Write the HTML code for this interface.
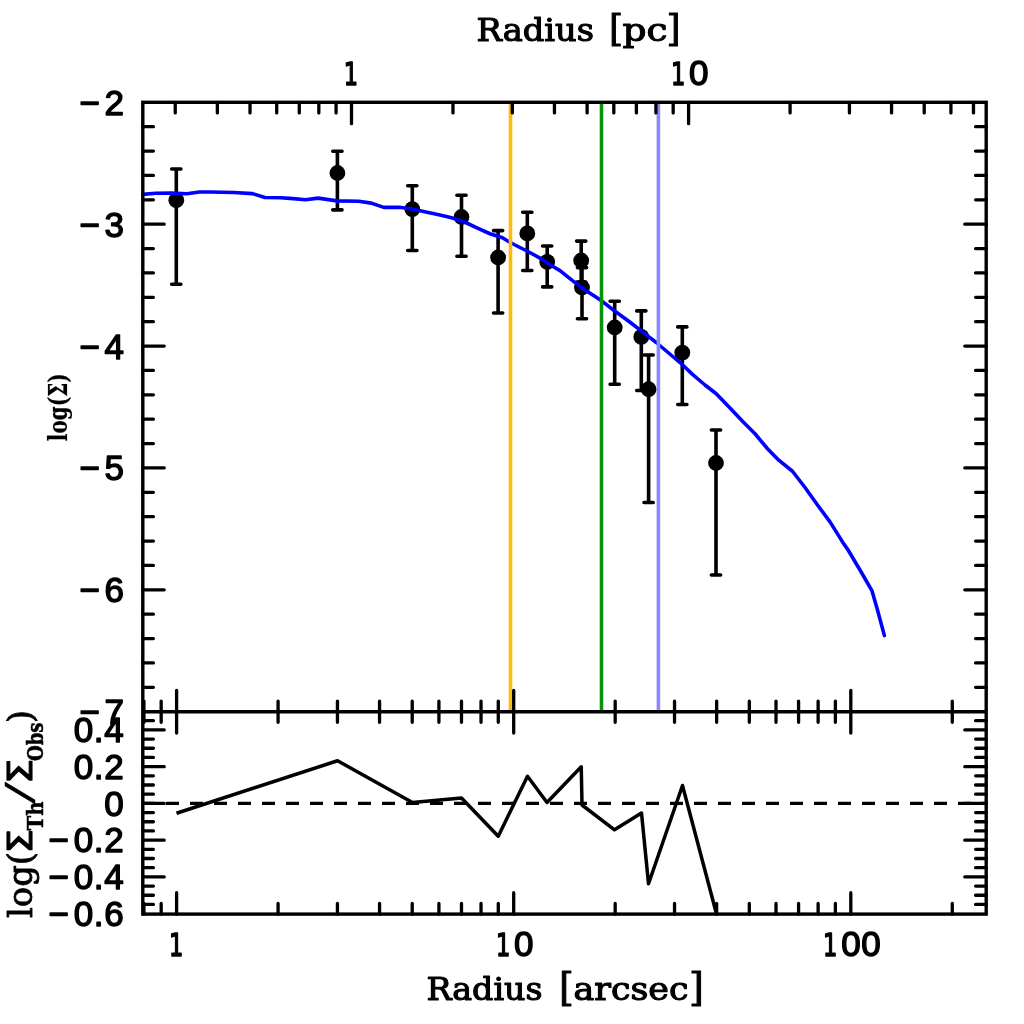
<!DOCTYPE html>
<html><head><meta charset="utf-8"><title>Radius profile</title>
<style>html,body{margin:0;padding:0;background:#fff}svg{display:block;filter:blur(0.45px)}
.n{font-family:"Liberation Sans",sans-serif;font-size:35px;fill:#000;stroke:#000;stroke-width:0.9px;stroke-linejoin:round}
.s{font-family:"DejaVu Serif",serif;fill:#000;stroke:#000;stroke-linejoin:round}
.d{fill:#000;stroke:#000;stroke-linejoin:round}
</style></head><body>
<svg width="1024" height="1024" viewBox="0 0 1024 1024">
<rect width="1024" height="1024" fill="#fff"/>
<path d="M176.3 169L176.3 284.25M171.70000000000002 169L180.9 169M171.70000000000002 284.25L180.9 284.25M337.4 151.25L337.4 209.9M332.79999999999995 151.25L342.0 151.25M332.79999999999995 209.9L342.0 209.9M412.3 185.7L412.3 250.5M407.7 185.7L416.90000000000003 185.7M407.7 250.5L416.90000000000003 250.5M461.5 195.2L461.5 256.25M456.9 195.2L466.1 195.2M456.9 256.25L466.1 256.25M498.1 230.6L498.1 313M493.5 230.6L502.70000000000005 230.6M493.5 313L502.70000000000005 313M527.3 212.3L527.3 270.5M522.6999999999999 212.3L531.9 212.3M522.6999999999999 270.5L531.9 270.5M547.2 246L547.2 286.9M542.6 246L551.8000000000001 246M542.6 286.9L551.8000000000001 286.9M581.2 241.1L581.2 282M576.6 241.1L585.8000000000001 241.1M576.6 282L585.8000000000001 282M582 267.6L582 318.75M577.4 267.6L586.6 267.6M577.4 318.75L586.6 318.75M614.7 301.2L614.7 384.2M610.1 301.2L619.3000000000001 301.2M610.1 384.2L619.3000000000001 384.2M641.3 310.9L641.3 390.5M636.6999999999999 310.9L645.9 310.9M636.6999999999999 390.5L645.9 390.5M648.6 355L648.6 502.5M644.0 355L653.2 355M644.0 502.5L653.2 502.5M682.3 326.9L682.3 404.5M677.6999999999999 326.9L686.9 326.9M677.6999999999999 404.5L686.9 404.5M716 430L716 575M711.4 430L720.6 430M711.4 575L720.6 575" stroke="#000" stroke-width="3.6" stroke-linecap="round" fill="none"/>
<circle cx="176.3" cy="200.2" r="7.9" fill="#000"/>
<circle cx="337.4" cy="173" r="7.9" fill="#000"/>
<circle cx="412.3" cy="209.1" r="7.9" fill="#000"/>
<circle cx="461.5" cy="217" r="7.9" fill="#000"/>
<circle cx="498.1" cy="257.5" r="7.9" fill="#000"/>
<circle cx="527.3" cy="233.4" r="7.9" fill="#000"/>
<circle cx="547.2" cy="261.9" r="7.9" fill="#000"/>
<circle cx="581.2" cy="260.5" r="7.9" fill="#000"/>
<circle cx="582" cy="287.5" r="7.9" fill="#000"/>
<circle cx="614.7" cy="327.5" r="7.9" fill="#000"/>
<circle cx="641.3" cy="336.9" r="7.9" fill="#000"/>
<circle cx="648.6" cy="389.25" r="7.9" fill="#000"/>
<circle cx="682.3" cy="352.7" r="7.9" fill="#000"/>
<circle cx="716" cy="463" r="7.9" fill="#000"/>
<polyline points="142.8,194.4 155.6,193.3 171.25,193.1 186.9,193.75 199.4,192 210.3,192 233.75,192.5 252.5,193.6 265,197.5 280.6,197.8 290,198.4 305.6,199.7 318.1,198.1 336.9,200.9 358.75,201.25 371.25,203.1 383.75,207.4 399.4,207.2 411.9,209 430.6,213 440,215 452.5,218.1 465,222.25 477.5,228.1 490,233.75 502.5,237.75 508.1,241.25 515,245 527.5,251.25 540,258.1 552.5,266.25 560,270.6 572.5,280.6 585,290 601.25,300.6 615,311.25 628.75,321.25 642.5,331.9 656.25,342.5 672.5,356.25 680,362.5 692.5,374.4 705,385 716.25,393.75 730,408.1 742.5,421.25 755,433.75 767.5,448.75 778.75,460.2 792.5,471.25 805,487.5 817.5,505 830,521.9 842.5,541.9 848.1,550 860,570 871.9,590.6 877.5,610 884.4,635.6" fill="none" stroke="#0000ff" stroke-width="3.6" stroke-linejoin="round" stroke-linecap="round"/>
<line x1="510.5" y1="102.3" x2="510.5" y2="711.7" stroke="#ffbb0a" stroke-width="3.6"/>
<line x1="601.5" y1="102.3" x2="601.5" y2="711.7" stroke="#089408" stroke-width="3.6"/>
<line x1="658.4" y1="102.3" x2="658.4" y2="711.7" stroke="#8a8aff" stroke-width="3.6"/>
<polyline points="176.5,813.25 337.5,760.75 412.5,802.5 461.5,798 498.25,836.25 527.5,776.25 547,802.5 581.25,766.75 582,805 614.5,829.8 641.5,813 648.5,883.75 682.5,785.5 716.5,914" fill="none" stroke="#000" stroke-width="3.5" stroke-linejoin="round"/>
<line x1="142" y1="803.4" x2="986.2" y2="803.4" stroke="#000" stroke-width="3.3" stroke-dasharray="13 11"/>
<path d="M175.24 102.30L175.24 112.90M217.35 102.30L217.35 112.90M250.02 102.30L250.02 112.90M276.71 102.30L276.71 112.90M299.28 102.30L299.28 112.90M318.83 102.30L318.83 112.90M336.08 102.30L336.08 112.90M351.50 102.30L351.50 123.70M452.98 102.30L452.98 112.90M512.34 102.30L512.34 112.90M554.45 102.30L554.45 112.90M587.12 102.30L587.12 112.90M613.81 102.30L613.81 112.90M636.38 102.30L636.38 112.90M655.93 102.30L655.93 112.90M673.18 102.30L673.18 112.90M688.60 102.30L688.60 123.70M790.08 102.30L790.08 112.90M849.44 102.30L849.44 112.90M891.55 102.30L891.55 112.90M924.22 102.30L924.22 112.90M950.91 102.30L950.91 112.90M973.48 102.30L973.48 112.90M143.93 701.10L143.93 722.30M143.93 914.10L143.93 903.50M161.18 701.10L161.18 722.30M161.18 914.10L161.18 903.50M176.60 690.30L176.60 733.10M176.60 914.10L176.60 892.70M278.08 701.10L278.08 722.30M278.08 914.10L278.08 903.50M337.44 701.10L337.44 722.30M337.44 914.10L337.44 903.50M379.55 701.10L379.55 722.30M379.55 914.10L379.55 903.50M412.22 701.10L412.22 722.30M412.22 914.10L412.22 903.50M438.91 701.10L438.91 722.30M438.91 914.10L438.91 903.50M461.48 701.10L461.48 722.30M461.48 914.10L461.48 903.50M481.03 701.10L481.03 722.30M481.03 914.10L481.03 903.50M498.28 701.10L498.28 722.30M498.28 914.10L498.28 903.50M513.70 690.30L513.70 733.10M513.70 914.10L513.70 892.70M615.18 701.10L615.18 722.30M615.18 914.10L615.18 903.50M674.54 701.10L674.54 722.30M674.54 914.10L674.54 903.50M716.65 701.10L716.65 722.30M716.65 914.10L716.65 903.50M749.32 701.10L749.32 722.30M749.32 914.10L749.32 903.50M776.01 701.10L776.01 722.30M776.01 914.10L776.01 903.50M798.58 701.10L798.58 722.30M798.58 914.10L798.58 903.50M818.13 701.10L818.13 722.30M818.13 914.10L818.13 903.50M835.38 701.10L835.38 722.30M835.38 914.10L835.38 903.50M850.80 690.30L850.80 733.10M850.80 914.10L850.80 892.70M952.28 701.10L952.28 722.30M952.28 914.10L952.28 903.50M142.80 126.68L153.40 126.68M986.20 126.68L975.60 126.68M142.80 151.05L153.40 151.05M986.20 151.05L975.60 151.05M142.80 175.43L153.40 175.43M986.20 175.43L975.60 175.43M142.80 199.80L153.40 199.80M986.20 199.80L975.60 199.80M142.80 224.18L164.20 224.18M986.20 224.18L964.80 224.18M142.80 248.56L153.40 248.56M986.20 248.56L975.60 248.56M142.80 272.93L153.40 272.93M986.20 272.93L975.60 272.93M142.80 297.31L153.40 297.31M986.20 297.31L975.60 297.31M142.80 321.68L153.40 321.68M986.20 321.68L975.60 321.68M142.80 346.06L164.20 346.06M986.20 346.06L964.80 346.06M142.80 370.44L153.40 370.44M986.20 370.44L975.60 370.44M142.80 394.81L153.40 394.81M986.20 394.81L975.60 394.81M142.80 419.19L153.40 419.19M986.20 419.19L975.60 419.19M142.80 443.56L153.40 443.56M986.20 443.56L975.60 443.56M142.80 467.94L164.20 467.94M986.20 467.94L964.80 467.94M142.80 492.32L153.40 492.32M986.20 492.32L975.60 492.32M142.80 516.69L153.40 516.69M986.20 516.69L975.60 516.69M142.80 541.07L153.40 541.07M986.20 541.07L975.60 541.07M142.80 565.44L153.40 565.44M986.20 565.44L975.60 565.44M142.80 589.82L164.20 589.82M986.20 589.82L964.80 589.82M142.80 614.20L153.40 614.20M986.20 614.20L975.60 614.20M142.80 638.57L153.40 638.57M986.20 638.57L975.60 638.57M142.80 662.95L153.40 662.95M986.20 662.95L975.60 662.95M142.80 687.32L153.40 687.32M986.20 687.32L975.60 687.32M142.80 904.46L153.40 904.46M986.20 904.46L975.60 904.46M142.80 895.27L153.40 895.27M986.20 895.27L975.60 895.27M142.80 886.09L153.40 886.09M986.20 886.09L975.60 886.09M142.80 876.90L164.20 876.90M986.20 876.90L964.80 876.90M142.80 867.71L153.40 867.71M986.20 867.71L975.60 867.71M142.80 858.52L153.40 858.52M986.20 858.52L975.60 858.52M142.80 849.34L153.40 849.34M986.20 849.34L975.60 849.34M142.80 840.15L164.20 840.15M986.20 840.15L964.80 840.15M142.80 830.96L153.40 830.96M986.20 830.96L975.60 830.96M142.80 821.77L153.40 821.77M986.20 821.77L975.60 821.77M142.80 812.59L153.40 812.59M986.20 812.59L975.60 812.59M142.80 803.40L164.20 803.40M986.20 803.40L964.80 803.40M142.80 794.21L153.40 794.21M986.20 794.21L975.60 794.21M142.80 785.02L153.40 785.02M986.20 785.02L975.60 785.02M142.80 775.84L153.40 775.84M986.20 775.84L975.60 775.84M142.80 766.65L164.20 766.65M986.20 766.65L964.80 766.65M142.80 757.46L153.40 757.46M986.20 757.46L975.60 757.46M142.80 748.27L153.40 748.27M986.20 748.27L975.60 748.27M142.80 739.09L153.40 739.09M986.20 739.09L975.60 739.09M142.80 729.90L164.20 729.90M986.20 729.90L964.80 729.90M142.80 720.71L153.40 720.71M986.20 720.71L975.60 720.71" stroke="#000" stroke-width="3.3" stroke-linecap="round" fill="none"/>
<rect x="142.8" y="102.3" width="843.4000000000001" height="811.8000000000001" fill="none" stroke="#000" stroke-width="3.4"/>
<line x1="142.8" y1="711.7" x2="986.2" y2="711.7" stroke="#000" stroke-width="3.4"/>
<text class="n" y="114.80" style="font-size:35.0px;stroke-width:1.4px"><tspan x="79.19">−</tspan><tspan x="104.54">2</tspan></text>
<text class="n" y="236.68" style="font-size:35.0px;stroke-width:1.4px"><tspan x="79.19">−</tspan><tspan x="104.54">3</tspan></text>
<text class="n" y="358.56" style="font-size:35.0px;stroke-width:1.4px"><tspan x="79.19">−</tspan><tspan x="104.54">4</tspan></text>
<text class="n" y="480.44" style="font-size:35.0px;stroke-width:1.4px"><tspan x="79.19">−</tspan><tspan x="104.54">5</tspan></text>
<text class="n" y="602.32" style="font-size:35.0px;stroke-width:1.4px"><tspan x="79.19">−</tspan><tspan x="104.54">6</tspan></text>
<text class="n" y="724.20" style="font-size:35.0px;stroke-width:1.4px"><tspan x="79.19">−</tspan><tspan x="104.54">7</tspan></text>
<text class="n" y="742.20" style="font-size:35.0px;stroke-width:1.4px"><tspan x="73.65">0</tspan><tspan x="93.86">.</tspan><tspan x="104.34">4</tspan></text>
<text class="n" y="778.95" style="font-size:35.0px;stroke-width:1.4px"><tspan x="73.65">0</tspan><tspan x="93.86">.</tspan><tspan x="104.34">2</tspan></text>
<text class="n" y="815.70" style="font-size:35.0px;stroke-width:1.4px"><tspan x="104.34">0</tspan></text>
<text class="n" y="852.45" style="font-size:35.0px;stroke-width:1.4px"><tspan x="48.30">−</tspan><tspan x="73.65">0</tspan><tspan x="93.86">.</tspan><tspan x="104.34">2</tspan></text>
<text class="n" y="889.20" style="font-size:35.0px;stroke-width:1.4px"><tspan x="48.30">−</tspan><tspan x="73.65">0</tspan><tspan x="93.86">.</tspan><tspan x="104.34">4</tspan></text>
<text class="n" y="925.95" style="font-size:35.0px;stroke-width:1.4px"><tspan x="48.30">−</tspan><tspan x="73.65">0</tspan><tspan x="93.86">.</tspan><tspan x="104.34">6</tspan></text>
<text class="n" y="955.60" style="font-size:35.0px;stroke-width:1.4px"><tspan x="168.90" style="font-family:'DejaVu Sans',sans-serif;font-size:31.59px;stroke-width:1.5px" textLength="14.35" lengthAdjust="spacingAndGlyphs">1</tspan></text>
<text class="n" y="955.60" style="font-size:35.0px;stroke-width:1.4px"><tspan x="495.99" style="font-family:'DejaVu Sans',sans-serif;font-size:31.59px;stroke-width:1.5px" textLength="14.35" lengthAdjust="spacingAndGlyphs">1</tspan><tspan x="514.07">0</tspan></text>
<text class="n" y="955.60" style="font-size:35.0px;stroke-width:1.4px"><tspan x="823.08" style="font-family:'DejaVu Sans',sans-serif;font-size:31.59px;stroke-width:1.5px" textLength="14.35" lengthAdjust="spacingAndGlyphs">1</tspan><tspan x="841.16">0</tspan><tspan x="861.18">0</tspan></text>
<text class="n" y="85.00" style="font-size:35.0px;stroke-width:1.4px"><tspan x="343.80" style="font-family:'DejaVu Sans',sans-serif;font-size:31.59px;stroke-width:1.5px" textLength="14.35" lengthAdjust="spacingAndGlyphs">1</tspan></text>
<text class="n" y="85.00" style="font-size:35.0px;stroke-width:1.4px"><tspan x="670.89" style="font-family:'DejaVu Sans',sans-serif;font-size:31.59px;stroke-width:1.5px" textLength="14.35" lengthAdjust="spacingAndGlyphs">1</tspan><tspan x="688.97">0</tspan></text>
<text class="s" y="40.5" style="font-size:31px;stroke-width:1.1px"><tspan x="476.5" textLength="117.5" lengthAdjust="spacingAndGlyphs">Radius</tspan> <tspan x="609" style="font-size:38px;stroke-width:1.0px" textLength="14.1" lengthAdjust="spacingAndGlyphs">[</tspan><tspan x="622.5" textLength="45.0" lengthAdjust="spacingAndGlyphs">pc</tspan><tspan x="666.5" style="font-size:38px;stroke-width:1.0px" textLength="14.1" lengthAdjust="spacingAndGlyphs">]</tspan></text>
<text class="s" y="1000.2" style="font-size:31px;stroke-width:1.1px"><tspan x="426.5" textLength="116.0" lengthAdjust="spacingAndGlyphs">Radius</tspan> <tspan x="559" style="font-size:39px;stroke-width:1.0px" textLength="14.9" lengthAdjust="spacingAndGlyphs">[</tspan><tspan x="573.5" textLength="115.0" lengthAdjust="spacingAndGlyphs">arcsec</tspan><tspan x="689" style="font-size:39px;stroke-width:1.0px" textLength="14.9" lengthAdjust="spacingAndGlyphs">]</tspan></text>
<text class="s" transform="translate(67.1,441.2) rotate(-90)" style="font-size:25.5px;font-weight:bold;stroke-width:0.2px" textLength="68" lengthAdjust="spacingAndGlyphs">log(Σ)</text>
<text class="s" transform="translate(32.2,918) rotate(-90)" style="font-size:34px;stroke-width:0.9px"><tspan x="0" y="0" textLength="66.0" lengthAdjust="spacingAndGlyphs">log(</tspan><tspan x="64.5" y="0" style="font-size:34px;stroke-width:1.1px;font-family:'DejaVu Sans',sans-serif" textLength="24.4" lengthAdjust="spacingAndGlyphs">Σ</tspan><tspan x="87.5" y="10.6" style="font-size:23px;stroke-width:0.5px;font-weight:bold" textLength="29.0" lengthAdjust="spacingAndGlyphs">Th</tspan><tspan x="111.5" y="3" style="font-size:41px;stroke-width:0.5px;font-family:'Liberation Mono',monospace" textLength="27.0" lengthAdjust="spacingAndGlyphs">/</tspan><tspan x="133.9" y="0" style="font-size:34px;stroke-width:1.1px;font-family:'DejaVu Sans',sans-serif" textLength="25.2" lengthAdjust="spacingAndGlyphs">Σ</tspan><tspan x="157" y="10.6" style="font-size:23px;stroke-width:0.5px;font-weight:bold" textLength="38.5" lengthAdjust="spacingAndGlyphs">Obs</tspan><tspan x="195" y="0" textLength="13.0" lengthAdjust="spacingAndGlyphs">)</tspan></text>
</svg>
</body></html>
